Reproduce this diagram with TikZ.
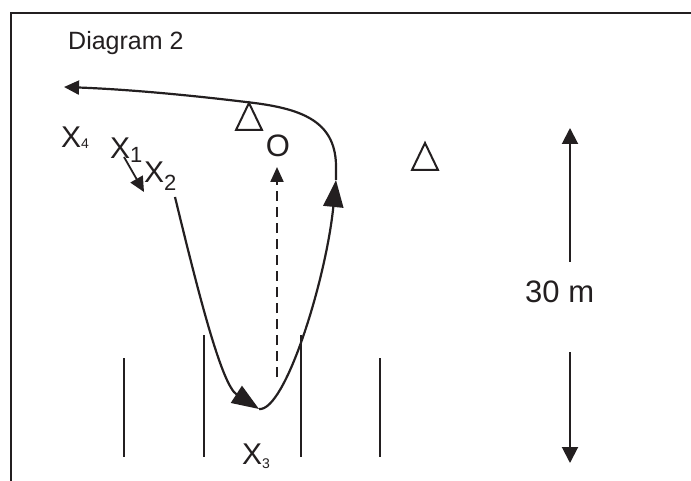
\documentclass[tikz,border=0pt]{standalone}
\usepackage{fontspec}
\setmainfont{Liberation Sans}
\usetikzlibrary{arrows.meta}
\definecolor{ink}{HTML}{231F20}
\newcommand{\lowidx}[3]{\raisebox{-#3pt}{\fontsize{#1}{#1}\selectfont #2}}
\tikzset{runline/.style={draw=ink,line width=2.2pt},runarr/.style={runline,-{Triangle[length=15pt,width=14pt]}},midtip/.style={runline,-{Triangle[length=27pt,width=20pt]}},passarr/.style={draw=ink,line width=2.2pt,dash pattern=on 10pt off 6pt,-{Triangle[length=15pt,width=13pt]}},distarr/.style={draw=ink,line width=2pt,-{Triangle[length=16pt,width=16pt]}},conemark/.style={draw=ink,line width=2pt,line join=miter},lanemark/.style={draw=ink,line width=1.8pt},player/.style={font=\fontsize{30}{30}\selectfont,text=ink,inner sep=0pt,anchor=base west}}

\begin{document}
\begin{tikzpicture}[x=1pt,y=-1pt]
\useasboundingbox (0,0) rectangle (691,481);
\draw[ink,line width=2.4pt] (691,13) -- (11,13) -- (11,481);
\node[player,font=\fontsize{25}{25}\selectfont] (title) at (68,50) {Diagram 2};
\node[player] (x4) at (61,148) {X\lowidx{14}{4}{1}};
\node[player] (x1) at (110,159) {X\lowidx{22}{1}{4}};
\node[player] (x2) at (144,183) {X\lowidx{22}{2}{8}};
\node[player] (x3) at (242,464) {X\lowidx{14}{3}{4}};
\node[player,anchor=base,font=\fontsize{31}{31}\selectfont] (o) at (278,157) {O};
\node[player,font=\fontsize{31}{31}\selectfont] (dist) at (525,302) {30 m};
\foreach \cx/\cy in {249/103,425/143} \draw[conemark] (\cx,\cy) -- ++(-13,27) -- ++(26,0) -- cycle;
\foreach \lx/\ly in {124/358,204/335,301/335,380/358} \draw[lanemark] (\lx,\ly) -- (\lx,457);
\coordinate (x1a) at (124,157);
\coordinate (x1b) at (144,192);
\coordinate (x2run) at (175,197);
\coordinate (bot) at (259,409);
\coordinate (turn) at (336,180);
\coordinate (out) at (64,87);
\coordinate (pass) at (277,377);
\coordinate (passend) at (277,167);
\coordinate (distup) at (570,262);
\coordinate (disttop) at (570,128);
\coordinate (distdown) at (570,352);
\coordinate (distbot) at (570,463);
\draw[runarr,line width=1.8pt] (x1a) -- (x1b);
\draw[midtip] (x2run) .. controls (200,300) and (222,385) .. (bot);
\draw[midtip] (bot) .. controls (285,412) and (326,280) .. (turn);
\draw[runarr] (turn) -- (336,165) .. controls (335,120) and (300,108) .. (246,102) .. controls (180,94) and (120,89) .. (out);
\draw[passarr] (pass) -- (passend);
\draw[distarr] (distup) -- (disttop);
\draw[distarr] (distdown) -- (distbot);
\end{tikzpicture}
\end{document}
